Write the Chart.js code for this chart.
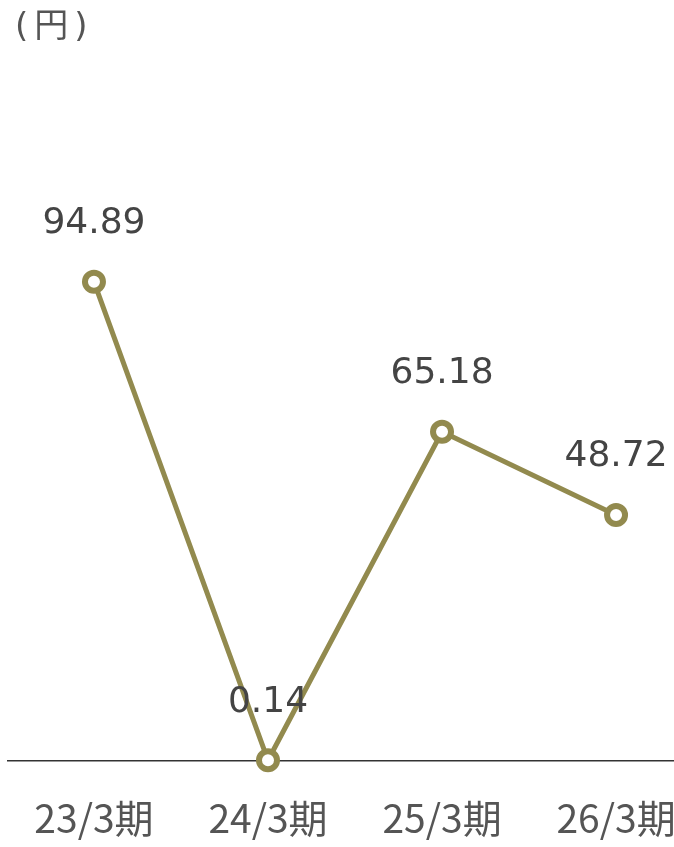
<!DOCTYPE html>
<html lang="ja">
<head>
<meta charset="utf-8">
<script src="https://cdn.jsdelivr.net/npm/chart.js@4/dist/chart.umd.min.js"></script>
<style>
  html, body { margin: 0; padding: 0; background: #fff; overflow: hidden; }
  canvas { display: block; }
</style>
</head>
<body>
<canvas id="eps-canvas" width="674" height="847"></canvas>
<script>
/* ---- data ---- */
const periods = ['23/3期', '24/3期', '25/3期', '26/3期'];
const eps     = [94.89, 0.14, 65.18, 48.72];
const unit    = '(円)';

const OLIVE = '#928a4e';
const FONT  = '"DejaVu Sans", "Noto Sans CJK JP", sans-serif';

/* value labels above each point + unit caption */
const labelPlugin = {
  id: 'valueLabels',
  afterDatasetsDraw(chart) {
    const ctx  = chart.ctx;
    const meta = chart.getDatasetMeta(0);
    ctx.save();
    ctx.fillStyle    = '#444';
    ctx.font         = '36px ' + FONT;
    ctx.textAlign    = 'center';
    ctx.textBaseline = 'middle';
    meta.data.forEach((pt, i) => {
      ctx.fillText(eps[i].toFixed(2), pt.x, pt.y - 58);
    });
    ctx.fillStyle     = '#555';
    ctx.font          = '34px ' + FONT;
    ctx.textAlign     = 'left';
    ctx.letterSpacing = '6px';
    ctx.fillText(unit, 15, 28);
    ctx.restore();
  },
};

new Chart(document.getElementById('eps-canvas').getContext('2d'), {
  type: 'line',
  data: {
    datasets: [{
      data:                 eps.map((v, i) => ({ x: i, y: v })),
      borderColor:          OLIVE,
      borderWidth:          5,
      pointRadius:          9,
      pointBorderWidth:     6,
      pointBorderColor:     OLIVE,
      pointBackgroundColor: '#fff',
      tension:              0,
      clip:                 false,
    }],
  },
  options: {
    responsive:          false,
    maintainAspectRatio: false,
    animation:           false,
    layout: {
      autoPadding: false,
      padding: { left: 8, right: 0, top: 155, bottom: 0 },
    },
    plugins: {
      legend:  { display: false },
      tooltip: { enabled: false },
    },
    scales: {
      x: {
        type: 'linear',
        min:  -0.494,
        max:  3.333,
        grid:   { display: false, drawTicks: false },
        border: { display: true, color: '#333', width: 1.5 },
        afterBuildTicks: s => { s.ticks = periods.map((_, i) => ({ value: i })); },
        afterFit: s => {
          s.height = 86;
          // let the last label run off the edge instead of shrinking the plot
          s.paddingLeft  = 0;
          s.paddingRight = 0;
        },
        ticks: {
          color:       '#555',
          font:        { size: 39, family: '"Noto Sans CJK JP", ' + FONT },
          padding:     34,
          maxRotation: 0,
          autoSkip:    false,
          callback:    v => periods[v],
        },
      },
      y: {
        display: false,
        min:     0,
        max:     120,
      },
    },
  },
  plugins: [labelPlugin],
});
</script>
</body>
</html>
